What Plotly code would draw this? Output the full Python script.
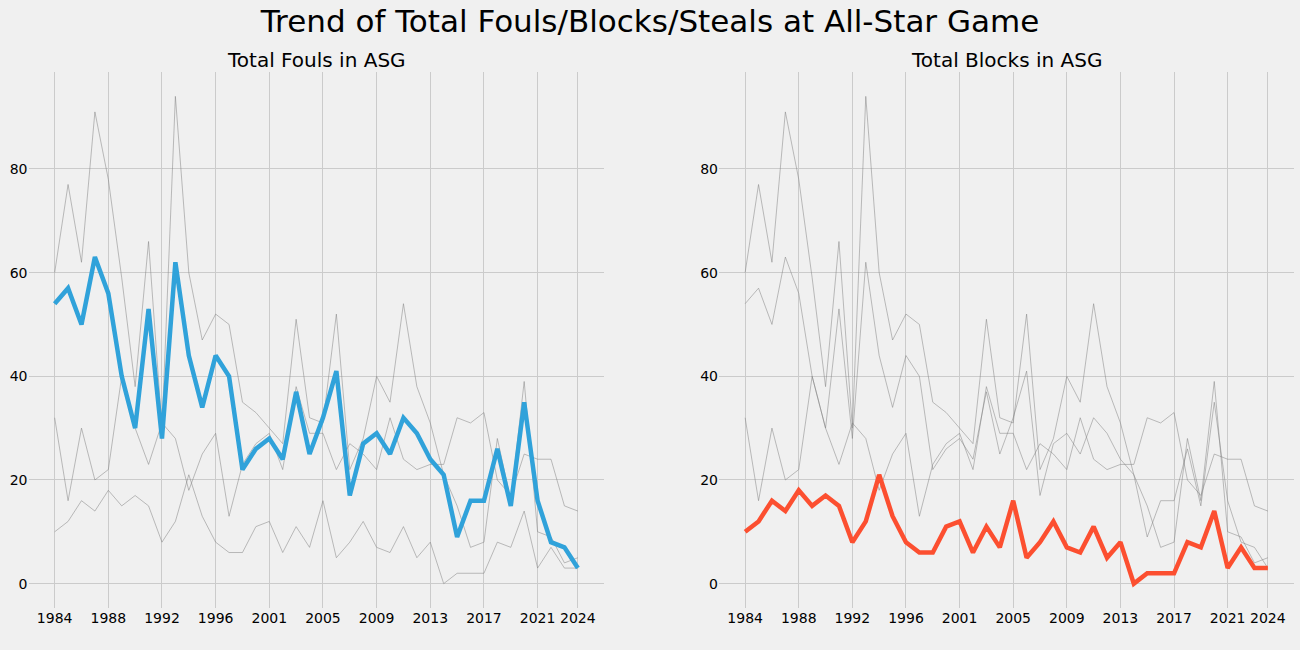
import plotly.graph_objects as go

# ---- data ----
years = list(range(1984, 1999)) + list(range(2000, 2025))  # 1999 ASG not held
fouls = [54, 57, 50, 63, 56, 40, 30, 53, 28, 62, 44, 34, 44, 40, 22, 26, 28, 24, 37, 25,
         32, 41, 17, 27, 29, 25, 32, 29, 24, 21, 9, 16, 16, 26, 15, 35, 16, 8, 7, 3]
blocks = [10, 12, 16, 14, 18, 15, 17, 15, 8, 12, 21, 13, 8, 6, 6, 11, 12, 6, 11, 7,
          16, 5, 8, 12, 7, 6, 11, 5, 8, 0, 2, 2, 2, 8, 7, 14, 3, 7, 3, 3]
steals = [32, 16, 30, 20, 22, 40, 30, 23, 31, 28, 18, 25, 29, 13, 23, 27, 29, 22, 38, 29,
          29, 22, 27, 25, 22, 32, 24, 22, 23, 23, 32, 31, 33, 20, 17, 25, 24, 24, 15, 14]
other = [60, 77, 62, 91, 78, 59, 38, 66, 30, 94, 60, 47, 52, 50, 35, 33, 30, 27, 51, 32,
         31, 52, 22, 28, 40, 35, 54, 38, 31, 21, 15, 7, 8, 28, 16, 39, 10, 9, 4, 5]
tick_years = ["1984", "1988", "1992", "1996", "2001", "2005", "2009", "2013", "2017", "2021", "2024"]
y_ticks = [0, 20, 40, 60, 80]

panels = [
    ("Total Fouls in ASG", fouls, "#30a2da"),
    ("Total Blocks in ASG", blocks, "#fc4f30"),
]
all_series = [other, fouls, steals, blocks]

x_cat = [str(y) for y in years]
FONT = "DejaVu Sans"
BG = "#f0f0f0"
GRID = "#cbcbcb"
GRAY = "rgba(128,128,128,0.5)"

fig = go.Figure()
for p, (title, highlight, color) in enumerate(panels):
    xa = "x" if p == 0 else "x2"
    ya = "y" if p == 0 else "y2"
    for s in all_series:
        fig.add_trace(go.Scatter(x=x_cat, y=s, mode="lines", xaxis=xa, yaxis=ya,
                                 line=dict(color=GRAY, width=1), showlegend=False,
                                 hoverinfo="skip"))
    fig.add_trace(go.Scatter(x=x_cat, y=highlight, mode="lines", xaxis=xa, yaxis=ya,
                             line=dict(color=color, width=4.5), showlegend=False))

n = len(years)
xr = [-0.05 * (n - 1), (n - 1) * 1.05]
ymin, ymax = 0, 94
yr = [ymin - 0.05 * (ymax - ymin), ymax + 0.05 * (ymax - ymin)]

common_x = dict(type="category", categoryorder="array", categoryarray=x_cat,
                range=xr, tickmode="array", tickvals=tick_years, ticktext=tick_years,
                showgrid=True, gridcolor=GRID, gridwidth=1, zeroline=False,
                showline=False, ticks="", automargin=False,
                tickfont=dict(family=FONT, size=14, color="#000000"))
common_y = dict(range=yr, tickmode="array", tickvals=y_ticks,
                showgrid=True, gridcolor=GRID, gridwidth=1, zeroline=False,
                showline=False, ticks="", automargin=False,
                domain=[42 / 650, 578 / 650],
                tickfont=dict(family=FONT, size=14, color="#000000"))

dom1 = [28.5 / 1300, 604 / 1300]
dom2 = [719 / 1300, 1294 / 1300]

fig.update_layout(
    width=1300, height=650, autosize=False,
    paper_bgcolor=BG, plot_bgcolor=BG,
    margin=dict(l=0, r=0, t=0, b=0),
    font=dict(family=FONT, color="#000000"),
    title=dict(text="Trend of Total Fouls/Blocks/Steals at All-Star Game",
               x=0.5, xanchor="center", y=1 - 21 / 650, yanchor="middle",
               font=dict(family=FONT, size=31, color="#000000")),
    xaxis=dict(domain=dom1, anchor="y", **common_x),
    yaxis=dict(anchor="x", **common_y),
    xaxis2=dict(domain=dom2, anchor="y2", **common_x),
    yaxis2=dict(anchor="x2", **common_y),
    annotations=[
        dict(text=panels[0][0], x=sum(dom1) / 2, y=1 - 60 / 650, xref="paper", yref="paper",
             xanchor="center", yanchor="middle", showarrow=False,
             font=dict(family=FONT, size=20, color="#000000")),
        dict(text=panels[1][0], x=sum(dom2) / 2, y=1 - 60 / 650, xref="paper", yref="paper",
             xanchor="center", yanchor="middle", showarrow=False,
             font=dict(family=FONT, size=20, color="#000000")),
    ],
)

fig.write_html("out.html", config={"displayModeBar": False},
               post_script="document.body.style.margin='0';document.body.style.overflow='hidden';")
